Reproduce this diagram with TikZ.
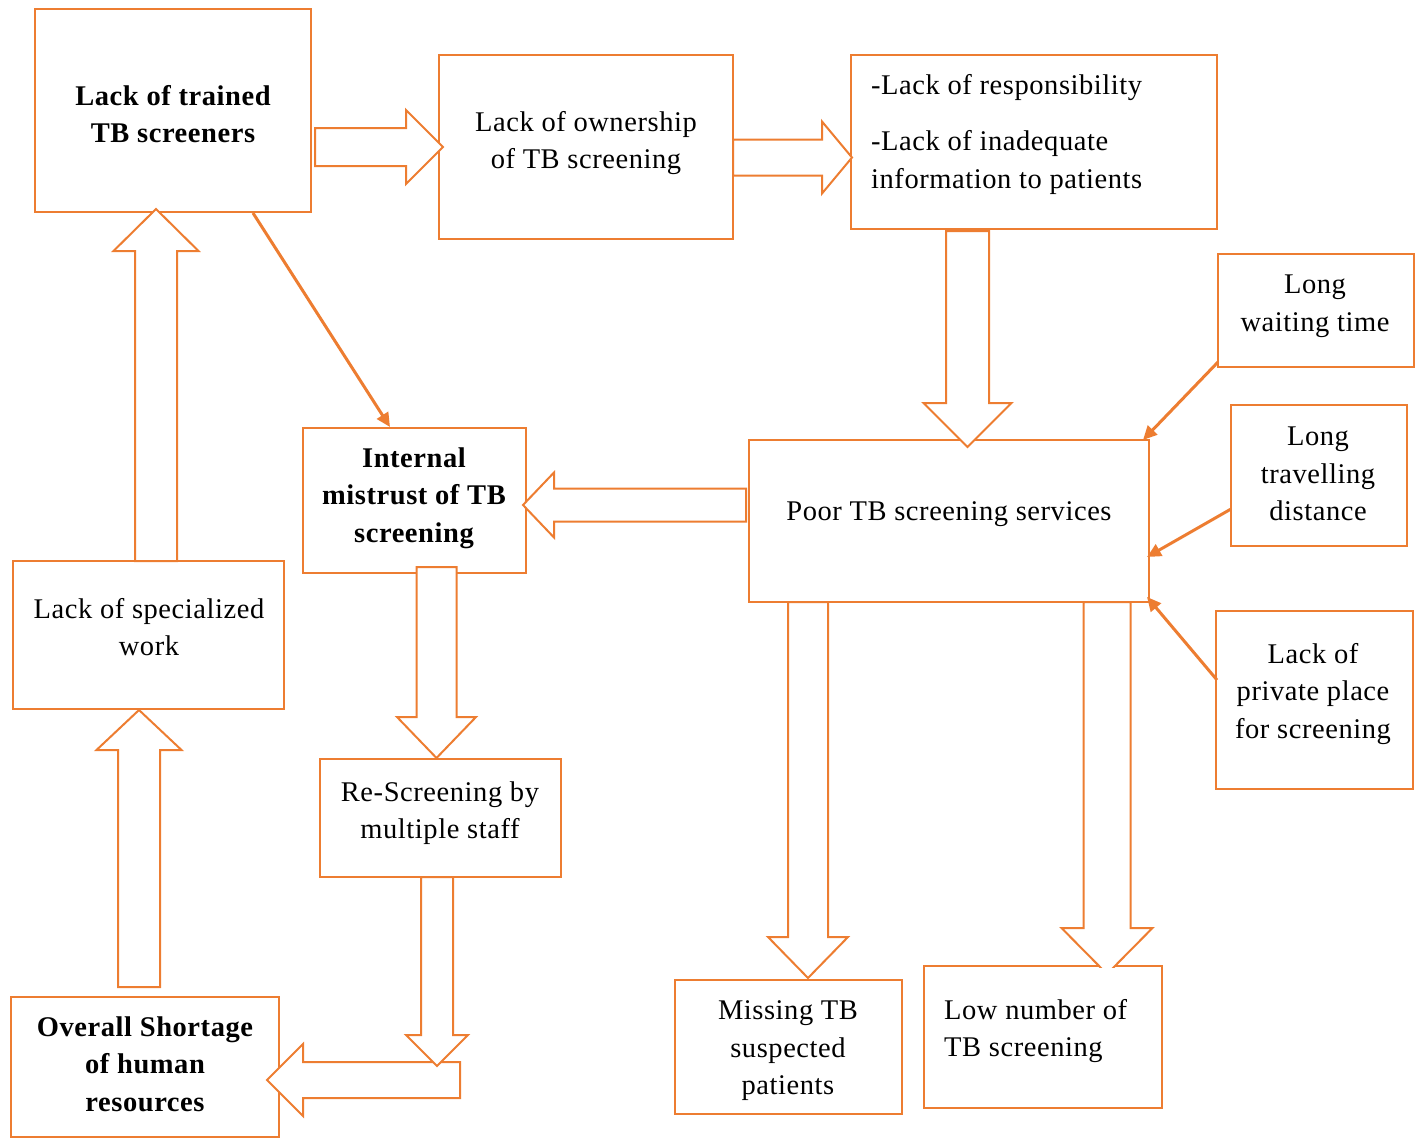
\documentclass[tikz,border=0pt]{standalone}
\usepackage{fontspec}
\setmainfont[LetterSpace=2]{Liberation Serif}
\usetikzlibrary{calc,arrows.meta}
\definecolor{org}{HTML}{ED7D31}
\tikzset{
  box/.style={draw=org, line width=2pt, rectangle, inner sep=0pt},
  txt/.style={align=center, inner sep=0pt, font=\fontsize{28.5}{37.5}\selectfont},
  btxt/.style={align=center, inner sep=0pt, font=\fontsize{28.5}{37.5}\selectfont\bfseries},
  ltxt/.style={align=left, inner sep=0pt, anchor=west, font=\fontsize{28.5}{37.5}\selectfont},
  blk/.style={draw=org, fill=white, line width=2pt, line join=miter},
  thinarrow/.style={draw=org, line width=3pt, -{Triangle[length=14pt,width=13pt]}},
  barrow/.style n args={3}{blk, to path={
    let \p1=($(\tikztotarget)-(\tikztostart)$), \n1={atan2(\y1,\x1)}, \n2={veclen(\x1,\y1)} in
    ($(\tikztostart)+(\n1+90:#1pt)$)
    -- ($(\tikztostart)+(\n1:{\n2-#3pt})+(\n1+90:#1pt)$)
    -- ($(\tikztostart)+(\n1:{\n2-#3pt})+(\n1+90:#2pt)$)
    -- (\tikztotarget)
    -- ($(\tikztostart)+(\n1:{\n2-#3pt})+(\n1-90:#2pt)$)
    -- ($(\tikztostart)+(\n1:{\n2-#3pt})+(\n1-90:#1pt)$)
    -- ($(\tikztostart)+(\n1-90:#1pt)$) -- cycle}}
}
\begin{document}
\begin{tikzpicture}[x=1pt,y=-1pt]
\useasboundingbox (0,0) rectangle (1416,1140);

% boxes
\node[box, minimum width=276pt, minimum height=203pt] (b1) at (173,110.5) {};
\node[box, minimum width=294pt, minimum height=184pt] (b2) at (586,147) {};
\node[box, minimum width=366pt, minimum height=174pt] (b3) at (1034,142) {};
\node[box, minimum width=196pt, minimum height=113pt] (b4) at (1316,310.5) {};
\node[box, minimum width=176pt, minimum height=141pt] (b5) at (1319,475.5) {};
\node[box, minimum width=400pt, minimum height=162pt] (b6) at (949,521) {};
\node[box, minimum width=197pt, minimum height=178pt] (b7) at (1314.5,700) {};
\node[box, minimum width=223pt, minimum height=145pt] (b8) at (414.5,500.5) {};
\node[box, minimum width=271pt, minimum height=148pt] (b9) at (148.5,635) {};
\node[box, minimum width=241pt, minimum height=118pt] (b10) at (440.5,818) {};
\node[box, minimum width=268pt, minimum height=140pt] (b11) at (145,1067) {};
\node[box, minimum width=227pt, minimum height=134pt] (b12) at (788.5,1047) {};
\node[box, minimum width=238pt, minimum height=142pt] (b13) at (1043,1037) {};

% texts
\node[btxt] (t1) at (173,114) {Lack of trained\\TB screeners};
\node[txt] (t2) at (586,143) {Lack of ownership\\of TB screening};
\node[ltxt] (t3) at (871,134) {-Lack of responsibility\\[19pt]-Lack of inadequate\\information to patients};
\node[txt] (t4) at (1315,306) {Long\\waiting time};
\node[txt] (t5) at (1318,474) {Long\\travelling\\distance};
\node[txt] (t6) at (949,514) {Poor TB screening services};
\node[txt] (t7) at (1313,694) {Lack of\\private place\\for screening};
\node[btxt] (t8) at (414,498) {Internal\\mistrust of TB\\screening};
\node[txt] (t9) at (149,627) {Lack of specialized\\work};
\node[txt] (t10) at (440,813) {Re-Screening by\\multiple staff};
\node[btxt] (t11) at (145,1064) {Overall Shortage\\of human\\resources};
\node[txt] (t12) at (788,1051) {Missing TB\\suspected\\patients};
\node[ltxt] (t13) at (944,1031) {Low number of\\TB screening};

% block arrow end points
\coordinate (a1s) at (315,147);   \coordinate (a1e) at (443,147);
\coordinate (a2s) at (733,157.5); \coordinate (a2e) at (852,157.5);
\coordinate (a3s) at (967.5,231); \coordinate (a3e) at (967.5,447);
\coordinate (a4s) at (746,505);   \coordinate (a4e) at (523,505);
\coordinate (a5s) at (436.5,567); \coordinate (a5e) at (436.5,758);
\coordinate (a6s) at (437,877);   \coordinate (a6e) at (437,1066);
\coordinate (a7s) at (460,1080);  \coordinate (a7e) at (267,1080);
\coordinate (a8s) at (156,561);   \coordinate (a8e) at (156,209);
\coordinate (a9s) at (139,987);   \coordinate (a9e) at (139,710);
\coordinate (a10s) at (808,602);  \coordinate (a10e) at (808,978);
\coordinate (a11s) at (1107,602); \coordinate (a11e) at (1107,974);

\draw[barrow={19}{37}{37}] (a1s) to (a1e);
\draw[barrow={18}{36}{30}] (a2s) to (a2e);
\draw[barrow={21.5}{44}{44}] (a3s) to (a3e);
\draw[barrow={16.5}{32.5}{31}] (a4s) to (a4e);
\draw[barrow={20}{39.5}{41}] (a5s) to (a5e);
\draw[barrow={18}{36}{36}] (a7s) to (a7e);
\draw[barrow={16}{31}{31}] (a6s) to (a6e);
\draw[barrow={21}{42.5}{42}] (a8s) to (a8e);
\draw[barrow={21}{42.5}{40}] (a9s) to (a9e);
\draw[barrow={20}{40}{41}] (a10s) to (a10e);
\begin{scope}
  \clip (0,0) rectangle (1416,967.2);
  \draw[barrow={23.5}{45.5}{46}] (a11s) to (a11e);
\end{scope}

% thin arrows
\coordinate (c1) at (253,213);  \coordinate (c2) at (390,427);
\coordinate (c3) at (1218,362); \coordinate (c4) at (1143,440);
\coordinate (c5) at (1231,509); \coordinate (c6) at (1147,557);
\coordinate (c7) at (1217,680); \coordinate (c8) at (1147,597);
\draw[thinarrow] (c1) -- (c2);
\draw[thinarrow] (c3) -- (c4);
\draw[thinarrow] (c5) -- (c6);
\draw[thinarrow] (c7) -- (c8);
\end{tikzpicture}
\end{document}
